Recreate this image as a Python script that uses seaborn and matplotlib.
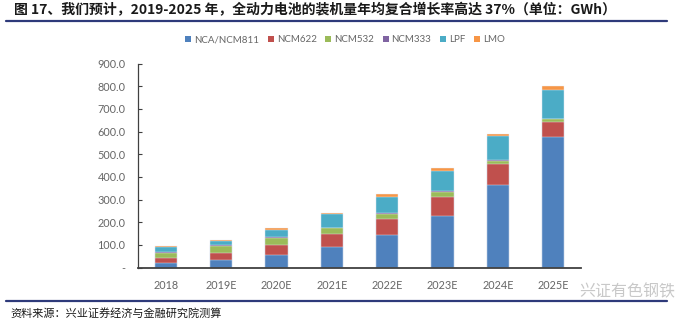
import matplotlib
matplotlib.use("Agg")
import matplotlib.pyplot as plt
from matplotlib.patches import Patch
import seaborn as sns
import numpy as np
import pandas as pd

years = ["2018", "2019E", "2020E", "2021E", "2022E", "2023E", "2024E", "2025E"]
nca_ncm811 = [21, 31, 57, 92, 143, 229, 365, 576]
ncm622 = [22, 32, 42, 56, 69, 84, 92, 66]
ncm532 = [21, 31, 29, 25, 24, 21, 15, 13]
ncm333 = [6, 5, 5, 3, 3, 2, 4, 2]
lpf = [22, 18, 33, 58, 74, 89, 103, 126]
lmo = [4, 4, 7, 6, 12, 12, 12, 16]

series_names = ["NCA/NCM811", "NCM622", "NCM532", "NCM333", "LPF", "LMO"]
series_vals = [nca_ncm811, ncm622, ncm532, ncm333, lpf, lmo]
colors = ["#4F81BD", "#C0504D", "#9BBB59", "#8064A2", "#4BACC6", "#F79646"]
yticks = [0, 100, 200, 300, 400, 500, 600, 700, 800, 900]
ytick_labels = ["-", "100.0", "200.0", "300.0", "400.0", "500.0", "600.0", "700.0", "800.0", "900.0"]

title = "图 17、我们预计，2019-2025 年，全动力电池的装机量年均复合增长率高达 37%（单位：GWh）"
source = "资料来源：兴业证券经济与金融研究院测算"
watermark = "兴证有色钢铁"

sns.set_style("white")
plt.rcParams["font.family"] = ["Lato", "Noto Sans CJK SC", "DejaVu Sans"]

df = pd.DataFrame({"year": years})
cum = np.zeros(len(years))
cum_cols = []
for name, vals in zip(series_names, series_vals):
    cum = cum + np.array(vals, dtype=float)
    df[name] = cum
    cum_cols.append(name)

W, H = 700, 322
fig = plt.figure(figsize=(7, 3.22), dpi=100)
ax = fig.add_axes([138 / W, 1 - 267.5 / H, (581 - 138) / W, (267.5 - 63.5) / H])

for name, col in reversed(list(zip(cum_cols, colors))):
    sns.barplot(data=df, x="year", y=name, color=col, width=0.4, saturation=1,
                errorbar=None, ax=ax, edgecolor="#e8eef6", linewidth=0.3)

ax.set_xlim(-0.5, len(years) - 0.5)
ax.set_ylim(0, 900)
ax.set_yticks(yticks)
ax.set_yticklabels(ytick_labels)
ax.set_xlabel("")
ax.set_ylabel("")
for s in ["top", "right"]:
    ax.spines[s].set_visible(False)
ax.spines["left"].set_color("#404040")
ax.spines["left"].set_linewidth(0.9)
ax.spines["bottom"].set_color("#404040")
ax.spines["bottom"].set_linewidth(1.3)
ax.tick_params(axis="y", direction="in", length=3, width=0.8, color="#404040",
               labelsize=7.8, labelcolor="#666666", pad=9, left=True)
ax.tick_params(axis="x", length=0, labelsize=7.8, labelcolor="#666666", pad=9)

handles = [Patch(facecolor=c, edgecolor="none", label=n) for n, c in zip(series_names, colors)]
fig.legend(handles=handles, loc="center", bbox_to_anchor=(345 / W, 1 - 40 / H), ncol=6,
           frameon=False, fontsize=7, handlelength=0.6, handleheight=0.6,
           handletextpad=0.3, columnspacing=0.9, labelcolor="#666666")

fig.text(14 / W, 1 - 10.5 / H, title, fontsize=10, fontweight="bold", color="#1a1a1a",
         va="center", ha="left", family=["Noto Sans CJK SC", "DejaVu Sans"])
fig.add_artist(plt.Line2D([6 / W, 667 / W], [1 - 20.5 / H, 1 - 20.5 / H], color="#2E3A7A", lw=1.6))
fig.add_artist(plt.Line2D([6 / W, 667 / W], [1 - 301 / H, 1 - 301 / H], color="#2E3A7A", lw=1.6))
fig.text(10 / W, 1 - 313 / H, source, fontsize=8, color="#1a1a1a", va="center", ha="left",
         family=["Noto Sans CJK SC", "DejaVu Sans"])
fig.text(675 / W, 1 - 292 / H, watermark, fontsize=11.5, color="#c8c8c8", va="center", ha="right",
         family=["Noto Sans CJK SC", "DejaVu Sans"])

fig.savefig("out.png", dpi=100)
